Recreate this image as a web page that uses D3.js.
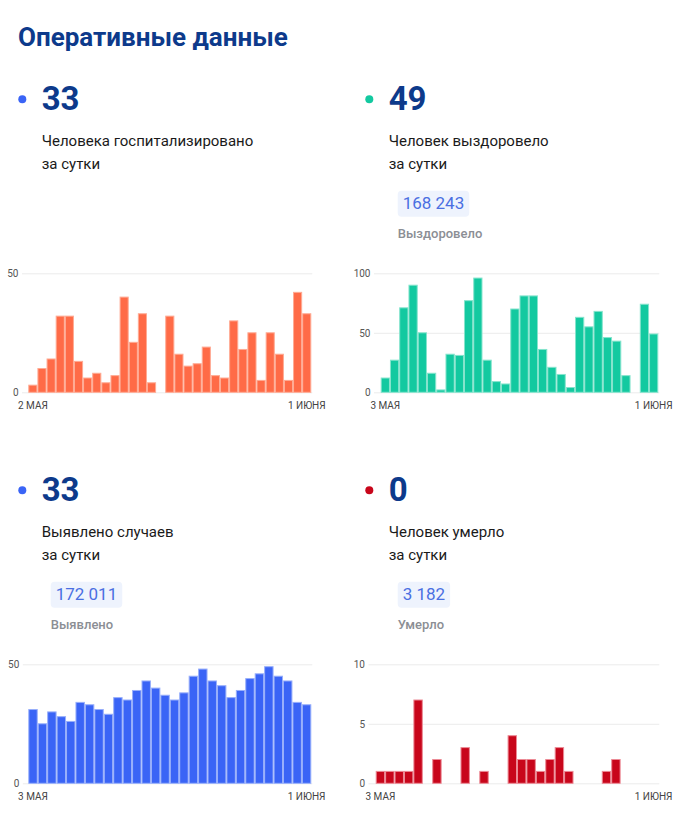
<!DOCTYPE html>
<html>
<head>
<meta charset="utf-8">
<script src="https://cdn.jsdelivr.net/npm/d3@7"></script>
<style>
  html, body { margin: 0; padding: 0; background: #fff; }
  svg { display: block; font-family: Roboto, "Noto Sans", sans-serif; }
</style>
</head>
<body>
<svg id="chart" width="693" height="835"></svg>
<script>
// ---- Data ----
const title = "Оперативные данные";

const daysFrom2May = ["2 мая","3 мая","4 мая","5 мая","6 мая","7 мая","8 мая","9 мая","10 мая","11 мая",
  "12 мая","13 мая","14 мая","15 мая","16 мая","17 мая","18 мая","19 мая","20 мая","21 мая",
  "22 мая","23 мая","24 мая","25 мая","26 мая","27 мая","28 мая","29 мая","30 мая","31 мая","1 июня"];
const daysFrom3May = daysFrom2May.slice(1);

const hospitalizedValues = [3,10,14,32,32,13,6,8,4,7,40,21,33,4,0,32,16,11,12,19,7,6,30,18,25,5,25,16,5,42,33];
const recoveredValues = [12,27,71,90,50,16,2,32,31,77,96,27,9,7,70,81,81,36,21,15,4,63,55,68,46,43,14,0,74,49];
const casesValues = [31,25,30,28,26,34,33,31,29,36,35,39,43,40,37,35,38,45,48,43,41,36,39,44,46,49,45,43,34,33];
const deathsValues = [1,1,1,1,7,0,2,0,0,3,0,1,0,0,4,2,2,1,2,3,1,0,0,0,1,2,0,0,0,0];

const hospitalizedTicks = [0, 50];
const recoveredTicks = [0, 50, 100];
const casesTicks = [0, 50];
const deathsTicks = [0, 5, 10];

const headlineNumbers = ["33", "49", "33", "0"];
const headlineLabels = [
  ["Человека госпитализировано", "за сутки"],
  ["Человек выздоровело", "за сутки"],
  ["Выявлено случаев", "за сутки"],
  ["Человек умерло", "за сутки"]
];
const totals = [null, "168 243", "172 011", "3 182"];
const totalLabels = [null, "Выздоровело", "Выявлено", "Умерло"];

// ---- Styles ----
const navy = "#0d3a8b";
const panels = [
  { days: daysFrom2May, values: hospitalizedValues, ticks: hospitalizedTicks,
    fill: "#ff6b47", stroke: "#ffab94", dot: "#3a64f6",
    ox: 0, oy: 0, labelRight: 18.5, plotX0: 28.3, plotX1: 311.3 },
  { days: daysFrom3May, values: recoveredValues, ticks: recoveredTicks,
    fill: "#13c9a0", stroke: "#86e4cd", dot: "#13c9a0",
    ox: 347, oy: 0, labelRight: 370.5, plotX0: 380.7, plotX1: 658.3 },
  { days: daysFrom3May, values: casesValues, ticks: casesTicks,
    fill: "#3a64f6", stroke: "#98affb", dot: "#3a64f6",
    ox: 0, oy: 391, labelRight: 19.3, plotX0: 28.3, plotX1: 311.3 },
  { days: daysFrom3May, values: deathsValues, ticks: deathsTicks,
    fill: "#c8061b", stroke: "#ec8a95", dot: "#c8061b",
    ox: 347, oy: 391, labelRight: 365, plotX0: 375.7, plotX1: 658.3 }
];

const svg = d3.select("#chart");
svg.append("rect").attr("width", 693).attr("height", 835).attr("fill", "#fff");

svg.append("text")
  .attr("x", 18).attr("y", 45.5)
  .attr("fill", navy)
  .attr("font-size", 26).attr("font-weight", 700)
  .text(title);

panels.forEach((p, i) => {
  const g = svg.append("g");
  const textX = 41.7 + p.ox;
  const dotX = 22.3 + p.ox;

  // headline
  g.append("circle").attr("cx", dotX).attr("cy", 99.3 + p.oy).attr("r", 4).attr("fill", p.dot);
  g.append("text").attr("x", textX).attr("y", 110 + p.oy)
    .attr("fill", navy).attr("font-size", 33).attr("font-weight", 700)
    .text(headlineNumbers[i]);
  headlineLabels[i].forEach((line, k) => {
    g.append("text").attr("x", textX).attr("y", 146 + k * 22.5 + p.oy)
      .attr("fill", "#1a1a1a").attr("font-size", 15)
      .text(line);
  });

  if (totals[i]) {
    const pill = g.append("g");
    const rect = pill.append("rect")
      .attr("x", textX + 9).attr("y", 190.7 + p.oy)
      .attr("height", 26).attr("rx", 4).attr("fill", "#eef3fd");
    const t = pill.append("text")
      .attr("x", textX + 14).attr("y", 209.3 + p.oy)
      .attr("fill", "#4a6fe2").attr("font-size", 17)
      .text(totals[i]);
    const w = t.node().getComputedTextLength();
    rect.attr("width", w + 10);
    g.append("text").attr("x", textX + 9).attr("y", 238.3 + p.oy)
      .attr("fill", "#8b8e94").attr("font-size", 13).attr("font-weight", 500)
      .text(totalLabels[i]);
  }

  // chart
  const yBase = 392.3 + p.oy, yTop = 273.3 + p.oy;
  const x = d3.scaleBand().domain(p.days).range([p.plotX0, p.plotX1]).padding(0);
  const y = d3.scaleLinear().domain([0, d3.max(p.ticks)]).range([yBase, yTop]);

  const gridStart = p.labelRight + 3.5;
  const yAxis = d3.axisLeft(y)
    .tickValues(p.ticks)
    .tickSize(-(p.plotX1 + 1 - gridStart))
    .tickPadding(3.5)
    .tickFormat(d3.format("d"));
  const ya = g.append("g").attr("transform", `translate(${gridStart},0)`).call(yAxis);
  ya.select(".domain").remove();
  ya.selectAll("line").attr("stroke", "#ececec").attr("stroke-width", 1);
  ya.selectAll("text").attr("fill", "#555").attr("font-size", 10)
    .attr("font-family", "Roboto, sans-serif");

  const data = p.days.map((d, k) => ({ day: d, value: p.values[k] })).filter(d => d.value > 0);
  g.append("g").selectAll("rect").data(data).join("rect")
    .attr("x", d => x(d.day) + 0.5)
    .attr("width", x.bandwidth() - 1)
    .attr("y", d => y(d.value))
    .attr("height", d => yBase - y(d.value))
    .attr("fill", p.fill)
    .attr("stroke", p.stroke)
    .attr("stroke-width", 1);

  const xAxis = d3.axisBottom(x)
    .tickValues([p.days[0], p.days[p.days.length - 1]])
    .tickSize(0).tickPadding(10)
    .tickFormat(d => d.toUpperCase());
  const xa = g.append("g").attr("transform", `translate(0,${yBase})`).call(xAxis);
  xa.select(".domain").remove();
  xa.selectAll("text").attr("fill", "#444").attr("font-size", 10)
    .attr("font-family", "Roboto, sans-serif");
});
</script>
</body>
</html>
